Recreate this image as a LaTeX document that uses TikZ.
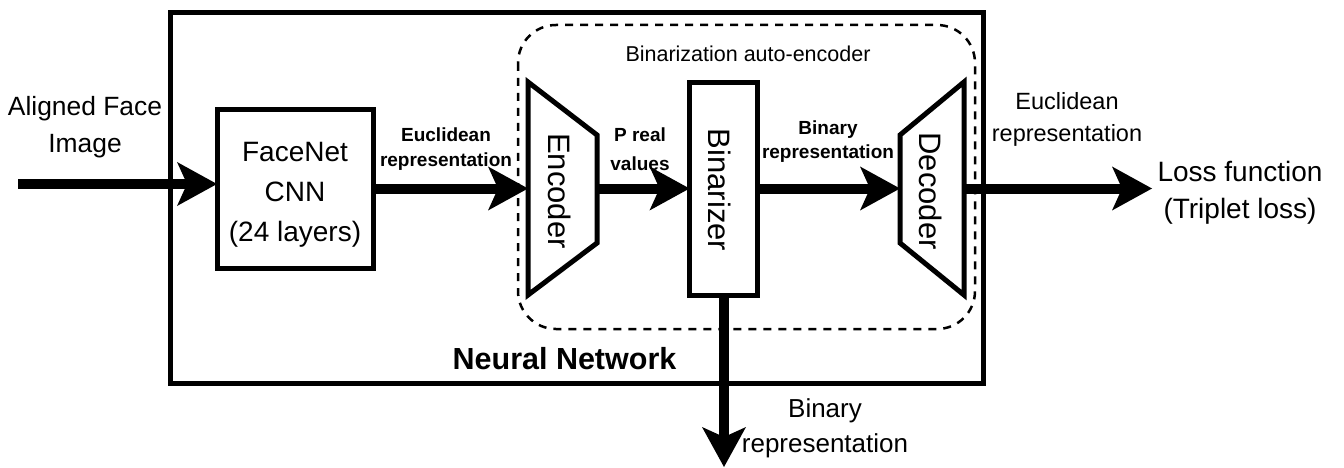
\documentclass[tikz,border=0pt]{standalone}
\usepackage{fontspec}
\setmainfont{Liberation Sans}
\usetikzlibrary{arrows.meta,calc}
\begin{document}
\begin{tikzpicture}[x=1pt,y=-1pt,
  blk/.style={draw, line width=5pt, inner sep=0pt, outer sep=0pt},
  hold/.style={inner sep=0pt, outer sep=0pt},
  shapeline/.style={line width=5pt, line join=miter},
  flow/.style={line width=10pt,
    -{Stealth[length=40pt,width=44pt,inset=10pt,line width=0pt]}},
  lbl/.style={inner sep=0pt, align=center},
  smallbold/.style={lbl, font=\fontsize{19}{25}\selectfont\bfseries},
  vlabel/.style={inner sep=0pt, rotate=-90, font=\fontsize{31}{36}\selectfont}]
\useasboundingbox (0,0) rectangle (1344,468);

% outer frame and auto-encoder group
\draw[line width=5pt] (170,13) rectangle (983,383);
\draw[line width=2.5pt, dash pattern=on 8pt off 7pt, rounded corners=38pt]
  (518,25) rectangle (975,329);
\node[anchor=base, inner sep=0pt, font=\fontsize{21.5}{26}\selectfont]
  (aetitle) at (748,62) {Binarization auto-encoder};
\node[anchor=base, inner sep=0pt, font=\fontsize{30.5}{36}\selectfont\bfseries]
  (nntitle) at (564.5,369) {Neural Network};

% blocks
\node[blk, minimum width=156pt, minimum height=158pt] (fn) at (295,189) {};
\node[lbl, font=\fontsize{28}{40}\selectfont] (fntext) at (295,195)
  {FaceNet\\CNN\\(24 layers)};

\node[hold, minimum width=69pt, minimum height=213pt] (enc) at (562.5,188.5) {};
\draw[shapeline] (enc.north west) -- ($(enc.north east)+(0,53)$)
  -- ($(enc.south east)+(0,-52)$) -- (enc.south west) -- cycle;
\node[vlabel] (enctext) at (560,191) {Encoder};

\node[blk, minimum width=67.5pt, minimum height=212pt] (bin) at (723.25,189) {};
\node[vlabel] (bintext) at (720,190) {Binarizer};

\node[hold, minimum width=64pt, minimum height=213pt] (dec) at (932,188.5) {};
\draw[shapeline] (dec.north east) -- ($(dec.north west)+(0,53)$)
  -- ($(dec.south west)+(0,-52)$) -- (dec.south east) -- cycle;
\node[vlabel] (dectext) at (931,191) {Decoder};

% free ends
\coordinate (src) at (18,184);
\coordinate (loss) at (1152,188.5);
\coordinate (down) at (724,467);

% connectors
\draw[flow] (src) -- (fn.west |- src);
\draw[flow] (fn.east |- enc.west) -- (enc.west);
\draw[flow] (enc.east) -- (bin.west |- enc.east);
\draw[flow] (bin.east |- dec.west) -- (dec.west);
\draw[flow] (dec.east) -- (loss);
\draw[flow] (bin.south -| down) -- (down);

% labels
\node[lbl, font=\fontsize{26.4}{37}\selectfont] (intext) at (85,126.7)
  {Aligned Face\\Image};
\node[smallbold] (eucl1) at (446,149.5) {Euclidean\\representation};
\node[smallbold, font=\fontsize{19}{29}\selectfont\bfseries] (preal) at (640,149.5)
  {P real\\values};
\node[smallbold, font=\fontsize{19}{24}\selectfont\bfseries] (binrep) at (828,142)
  {Binary\\representation};
\node[lbl, font=\fontsize{23.5}{32}\selectfont] (eucl2) at (1067,119)
  {Euclidean\\representation};
\node[lbl, font=\fontsize{28}{37}\selectfont] (losstext) at (1240,193)
  {Loss function\\(Triplet loss)};
\node[lbl, font=\fontsize{26}{35}\selectfont] (outtext) at (825,428.75)
  {Binary\\representation};
\end{tikzpicture}
\end{document}
